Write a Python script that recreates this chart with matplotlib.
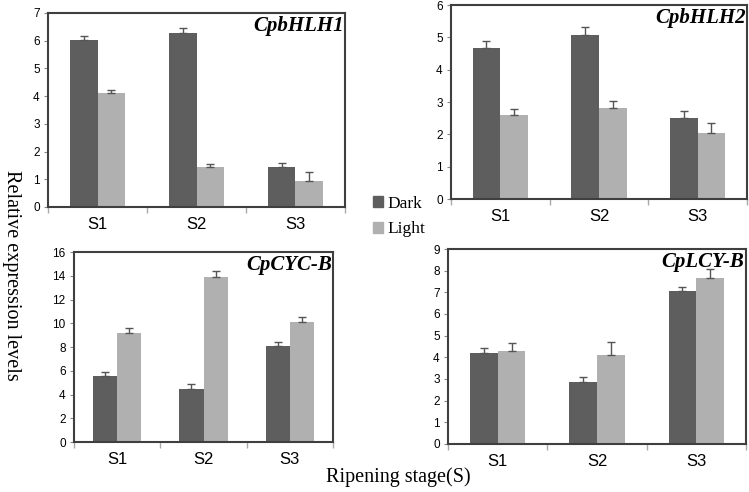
import numpy as np
import matplotlib
matplotlib.use('Agg')
import matplotlib.pyplot as plt
from matplotlib.patches import Patch

# ── Data ────────────────────────────────────────────────────
stages = ['S1', 'S2', 'S3']

genes = ['CpbHLH1', 'CpbHLH2', 'CpCYC-B', 'CpLCY-B']

dark_hlh1 = [6.02, 6.27, 1.46]
light_hlh1 = [4.11, 1.43, 0.95]
dark_hlh1_err = [0.16, 0.20, 0.12]
light_hlh1_err = [0.11, 0.13, 0.31]

dark_hlh2 = [4.66, 5.08, 2.52]
light_hlh2 = [2.60, 2.81, 2.05]
dark_hlh2_err = [0.22, 0.23, 0.19]
light_hlh2_err = [0.17, 0.21, 0.29]

dark_cyc = [5.60, 4.48, 8.07]
light_cyc = [9.22, 13.92, 10.11]
dark_cyc_err = [0.31, 0.37, 0.33]
light_cyc_err = [0.42, 0.48, 0.45]

dark_lcy = [4.21, 2.85, 7.04]
light_lcy = [4.27, 4.10, 7.66]
dark_lcy_err = [0.24, 0.25, 0.19]
light_lcy_err = [0.37, 0.63, 0.41]

y_tops = [7, 6, 16, 9]
y_steps = [1, 1, 2, 1]

# ── Styling ─────────────────────────────────────────────────
DARK = '#5e5e5e'
LIGHT = '#b0b0b0'
FRAME = '#3f3f3f'
SERIF = 'Liberation Serif'
SANS = 'Liberation Sans'

fig = plt.figure(figsize=(7.49, 4.92), dpi=100)

# axes boxes in figure fractions: [left, bottom, width, height]
boxes = [
    [0.0641, 0.5793, 0.3965, 0.3943],
    [0.6021, 0.5955, 0.3952, 0.3943],
    [0.0988, 0.1016, 0.3458, 0.3862],
    [0.5981, 0.0976, 0.3979, 0.3963],
]

panels = [
    (dark_hlh1, light_hlh1, dark_hlh1_err, light_hlh1_err),
    (dark_hlh2, light_hlh2, dark_hlh2_err, light_hlh2_err),
    (dark_cyc, light_cyc, dark_cyc_err, light_cyc_err),
    (dark_lcy, light_lcy, dark_lcy_err, light_lcy_err),
]

x = np.arange(len(stages))
w = 0.28

for i, (dk, lt, dk_e, lt_e) in enumerate(panels):
    ax = fig.add_axes(boxes[i])
    err_kw = dict(ecolor='#555555', elinewidth=1, capsize=3, capthick=1)
    ax.bar(x - w / 2, dk, w, color=DARK, yerr=[np.zeros(3), dk_e],
           error_kw=err_kw, zorder=2)
    ax.bar(x + w / 2, lt, w, color=LIGHT, yerr=[np.zeros(3), lt_e],
           error_kw=err_kw, zorder=2)

    ax.set_xlim(-0.5, 2.5)
    ax.set_ylim(0, y_tops[i])
    ax.set_yticks(np.arange(0, y_tops[i] + 0.01, y_steps[i]))

    # stage labels centred, tick marks only on group boundaries
    ax.set_xticks(x)
    ax.set_xticklabels(stages, fontfamily=SANS, fontsize=12)
    ax.set_xticks([-0.5, 0.5, 1.5, 2.5], minor=True)
    ax.tick_params(axis='x', which='major', length=0, pad=7)
    ax.tick_params(axis='x', which='minor', length=4, color='#aaaaaa', width=1)
    ax.tick_params(axis='y', length=3, color='#888888', pad=3, labelsize=8.5)
    for lab in ax.get_yticklabels():
        lab.set_fontfamily(SANS)

    for side in ['left', 'top', 'right', 'bottom']:
        ax.spines[side].set_color(FRAME)
        ax.spines[side].set_linewidth(1.5)

    ax.text(0.995, 0.985, genes[i], transform=ax.transAxes, ha='right', va='top',
            fontfamily=SERIF, fontstyle='italic', fontweight='bold', fontsize=15)

# ── Shared labels and legend ────────────────────────────────
fig.text(0.016, 0.44, 'Relative expression levels', rotation=270,
         ha='center', va='center', fontfamily=SERIF, fontsize=14.5)
fig.text(0.532, 0.031, 'Ripening stage(S)', ha='center', va='center',
         fontfamily=SERIF, fontsize=14.5)

handles = [Patch(color=DARK, label='Dark'), Patch(color=LIGHT, label='Light')]
fig.legend(handles=handles, loc='center', bbox_to_anchor=(0.533, 0.56),
           frameon=False, prop={'family': SERIF, 'size': 12.5},
           handlelength=0.6, handleheight=0.6, handletextpad=0.25,
           labelspacing=0.55)

plt.savefig('out.png', dpi=100)
